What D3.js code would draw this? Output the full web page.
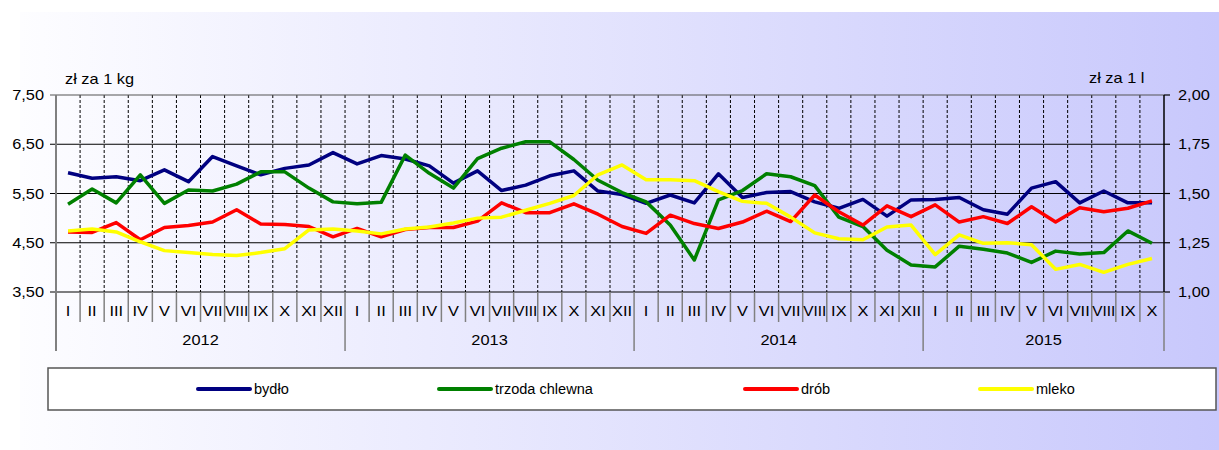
<!DOCTYPE html>
<html>
<head>
<meta charset="utf-8">
<script src="https://cdn.jsdelivr.net/npm/d3@7"></script>
<style>
  body { margin: 0; background: #fff; }
  text { font-family: "Liberation Sans", Arial, sans-serif; fill: #000; }
</style>
</head>
<body>
<div id="chart"></div>
<script>
let years = ['2012', '2013', '2014', '2015'];
let monthNames = ['I','II','III','IV','V','VI','VII','VIII','IX','X','XI','XII'];

// zł za 1 kg
let bydlo = [5.92,5.81,5.84,5.76,5.98,5.74,6.25,6.06,5.88,6.01,6.08,6.33,
             6.10,6.27,6.20,6.06,5.71,5.96,5.56,5.67,5.86,5.96,5.55,5.48,
             5.30,5.47,5.31,5.90,5.42,5.52,5.54,5.33,5.20,5.38,5.04,5.37,
             5.38,5.42,5.17,5.08,5.61,5.74,5.31,5.55,5.31,5.31];
let trzoda = [5.28,5.59,5.31,5.88,5.30,5.57,5.55,5.69,5.94,5.94,5.61,5.33,
              5.29,5.32,6.28,5.91,5.61,6.21,6.42,6.55,6.55,6.19,5.77,5.52,
              5.33,4.86,4.15,5.37,5.56,5.90,5.84,5.66,5.02,4.83,4.35,4.05,
              4.01,4.43,4.37,4.29,4.10,4.33,4.27,4.30,4.74,4.49];
let drob = [4.72,4.71,4.91,4.56,4.81,4.85,4.92,5.17,4.88,4.87,4.83,4.62,
            4.79,4.62,4.77,4.81,4.81,4.94,5.31,5.11,5.11,5.29,5.08,4.83,
            4.69,5.06,4.89,4.79,4.92,5.14,4.93,5.47,5.13,4.86,5.25,5.03,
            5.27,4.92,5.03,4.89,5.23,4.92,5.21,5.13,5.20,5.35];
// zł za 1 l
let mleko = [1.31,1.32,1.305,1.255,1.21,1.20,1.19,1.185,1.20,1.22,1.315,1.32,
             1.31,1.295,1.32,1.33,1.35,1.375,1.38,1.415,1.45,1.49,1.595,1.645,
             1.57,1.57,1.565,1.51,1.46,1.45,1.38,1.30,1.27,1.265,1.33,1.34,
             1.19,1.29,1.247,1.25,1.24,1.115,1.14,1.10,1.14,1.17];

let leftTicks = [3.5, 4.5, 5.5, 6.5, 7.5];
let rightTicks = [1.0, 1.25, 1.5, 1.75, 2.0];

let seriesNames = ['bydło', 'trzoda chlewna', 'drób', 'mleko'];
let seriesColors = ['#000080', '#008000', '#ff0000', '#ffff00'];

let width = 1219, height = 450;
let plotLeft = 56, plotRight = 1164, plotTop = 95, plotBottom = 292;
let sx = 1.17; // the reference text is a bit stretched horizontally

let months = [];
years.forEach(y => {
    monthNames.forEach(m => {
        if (months.length < bydlo.length) months.push({ key: y + '-' + m, label: m, year: y });
    });
});

let x = d3.scaleBand().domain(months.map(d => d.key)).range([plotLeft, plotRight]);
let yL = d3.scaleLinear().domain([3.5, 7.5]).range([plotBottom, plotTop]);
let yR = d3.scaleLinear().domain([1.0, 2.0]).range([plotBottom, plotTop]);

let svg = d3.select('#chart').append('svg')
    .attr('width', width)
    .attr('height', height);

function place(tx, ty, s) {
    return `translate(${tx},${ty}) scale(${s || sx},1)`;
}

let defs = svg.append('defs');
let grad = defs.append('linearGradient').attr('id', 'bg').attr('x1', '0%').attr('x2', '100%');
grad.append('stop').attr('offset', '0%').attr('stop-color', '#fdfdff');
grad.append('stop').attr('offset', '100%').attr('stop-color', '#c8c8fc');

svg.append('rect').attr('x', 0).attr('y', 0).attr('width', width).attr('height', height).attr('fill', '#fff');
svg.append('rect').attr('x', 20).attr('y', 12).attr('width', width - 20).attr('height', height - 12).attr('fill', 'url(#bg)');

// vertical dashed gridlines between months
svg.append('g').selectAll('line')
    .data(months.slice(1))
    .join('line')
    .attr('x1', d => x(d.key)).attr('x2', d => x(d.key))
    .attr('y1', plotTop).attr('y2', plotBottom)
    .attr('stroke', '#000').attr('stroke-width', 1)
    .attr('stroke-dasharray', '3,2');

// horizontal gridlines
svg.append('g').selectAll('line')
    .data(leftTicks)
    .join('line')
    .attr('x1', plotLeft - 6).attr('x2', plotRight)
    .attr('y1', d => yL(d)).attr('y2', d => yL(d))
    .attr('stroke', (d, i) => i === leftTicks.length - 1 ? '#555' : '#000')
    .attr('stroke-width', 1.2);

// left axis
svg.append('line').attr('x1', plotLeft).attr('x2', plotLeft).attr('y1', plotTop).attr('y2', 351)
    .attr('stroke', '#808080').attr('stroke-width', 2);
svg.append('g').selectAll('text')
    .data(leftTicks)
    .join('text')
    .attr('transform', d => place(44, yL(d) + 5))
    .attr('text-anchor', 'end')
    .attr('font-size', 14)
    .text(d => d.toFixed(2).replace('.', ','));

// right axis
svg.append('line').attr('x1', plotRight).attr('x2', plotRight).attr('y1', plotTop).attr('y2', plotBottom)
    .attr('stroke', '#000').attr('stroke-width', 1.5);
svg.append('g').selectAll('line')
    .data(rightTicks)
    .join('line')
    .attr('x1', plotRight).attr('x2', plotRight + 6)
    .attr('y1', d => yR(d)).attr('y2', d => yR(d))
    .attr('stroke', '#000').attr('stroke-width', 1.2);
svg.append('g').selectAll('text')
    .data(rightTicks)
    .join('text')
    .attr('transform', d => place(1178, yR(d) + 5))
    .attr('font-size', 14)
    .text(d => d.toFixed(2).replace('.', ','));

svg.append('text').attr('transform', place(65, 84)).attr('font-size', 14).text('zł za 1 kg');
svg.append('text').attr('transform', place(1089, 83)).attr('font-size', 14).text('zł za 1 l');

// category axis: month ticks and labels
svg.append('g').selectAll('line')
    .data(months.slice(1))
    .join('line')
    .attr('x1', d => x(d.key)).attr('x2', d => x(d.key))
    .attr('y1', plotBottom).attr('y2', d => d.label === 'I' ? 351 : 322)
    .attr('stroke', '#808080').attr('stroke-width', 1.5);
svg.append('line').attr('x1', plotRight).attr('x2', plotRight).attr('y1', plotBottom).attr('y2', 351)
    .attr('stroke', '#808080').attr('stroke-width', 1.5);
svg.append('g').selectAll('text')
    .data(months)
    .join('text')
    .attr('transform', d => d.label === 'VIII'
        ? `translate(${x(d.key) + x.bandwidth() / 2},316)`
        : place(x(d.key) + x.bandwidth() / 2, 316))
    .attr('text-anchor', 'middle')
    .attr('font-size', 14)
    .attr('textLength', d => d.label === 'VIII' ? 23 : null)
    .attr('lengthAdjust', 'spacingAndGlyphs')
    .text(d => d.label);

svg.append('g').selectAll('text')
    .data(years)
    .join('text')
    .attr('transform', yr => {
        let ms = months.filter(m => m.year === yr);
        return place((x(ms[0].key) + x(ms[ms.length - 1].key) + x.bandwidth()) / 2, 345);
    })
    .attr('text-anchor', 'middle')
    .attr('font-size', 14)
    .text(d => d);

// series lines
let lineL = d3.line().x((d, i) => x(months[i].key) + x.bandwidth() / 2).y(d => yL(d));
let lineR = d3.line().x((d, i) => x(months[i].key) + x.bandwidth() / 2).y(d => yR(d));

[bydlo, trzoda, drob].forEach((s, i) => {
    svg.append('path').datum(s)
        .attr('d', lineL)
        .attr('fill', 'none')
        .attr('stroke', seriesColors[i])
        .attr('stroke-width', 3.5)
        .attr('stroke-linejoin', 'round');
});
svg.append('path').datum(mleko)
    .attr('d', lineR)
    .attr('fill', 'none')
    .attr('stroke', seriesColors[3])
    .attr('stroke-width', 3.5)
    .attr('stroke-linejoin', 'round');

// legend
svg.append('rect').attr('x', 48).attr('y', 368).attr('width', 1168).attr('height', 42)
    .attr('fill', '#fff').attr('stroke', '#555').attr('stroke-width', 1.5);
let legendX = [198, 439, 745, 980];
let legend = svg.append('g').selectAll('g')
    .data(seriesNames)
    .join('g')
    .attr('transform', (d, i) => `translate(${legendX[i]},389)`);
legend.append('line')
    .attr('x1', 0).attr('x2', 52).attr('y1', 0).attr('y2', 0)
    .attr('stroke', (d, i) => seriesColors[i])
    .attr('stroke-width', 4)
    .attr('stroke-linecap', 'round');
legend.append('text')
    .attr('transform', place(56, 5, 1.04))
    .attr('font-size', 14)
    .text(d => d);
</script>
</body>
</html>
